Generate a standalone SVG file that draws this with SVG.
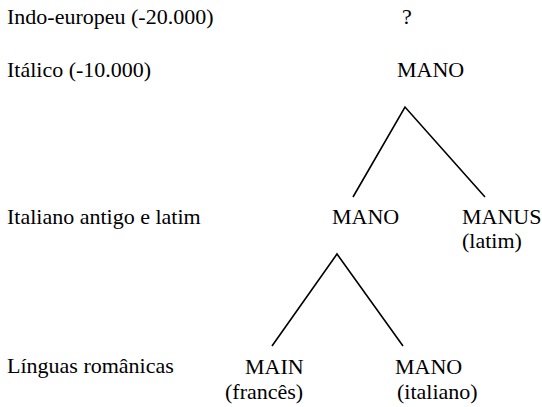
<svg xmlns="http://www.w3.org/2000/svg" width="542" height="407" viewBox="0 0 542 407">
  <style>
    .t { font-family: 'Liberation Serif', serif; font-size: 22px; fill: #000; }
    .edge { stroke: #000; stroke-width: 1.6; fill: none; }
  </style>
  <rect width="542" height="407" fill="#fff"/>
  <g id="era-indo-europeu">
    <text class="t" x="7" y="24">Indo-europeu (-20.000)</text>
  </g>
  <g id="era-italico">
    <text class="t" x="7" y="77">It&#225;lico (-10.000)</text>
  </g>
  <g id="era-antigo">
    <text class="t" x="7" y="224">Italiano antigo e latim</text>
  </g>
  <g id="era-romanicas">
    <text class="t" x="7" y="373">L&#237;nguas rom&#226;nicas</text>
  </g>
  <g id="node-proto">
    <text class="t" x="402" y="24">?</text>
  </g>
  <g id="node-italico">
    <text class="t" x="397" y="77">MANO</text>
  </g>
  <g id="node-italiano-antigo">
    <text class="t" x="332" y="224">MANO</text>
  </g>
  <g id="node-latim">
    <text class="t" x="462" y="224">MANUS</text>
    <text class="t" x="462" y="248">(latim)</text>
  </g>
  <g id="node-frances">
    <text class="t" x="245" y="374">MAIN</text>
    <text class="t" x="225" y="399">(franc&#234;s)</text>
  </g>
  <g id="node-italiano">
    <text class="t" x="395" y="374">MANO</text>
    <text class="t" x="397" y="399">(italiano)</text>
  </g>
  <g id="connectors">
    <path class="edge" d="M353 197 L405 107 L485 197"/>
    <path class="edge" d="M272 346 L337 254 L403 346"/>
  </g>
</svg>
